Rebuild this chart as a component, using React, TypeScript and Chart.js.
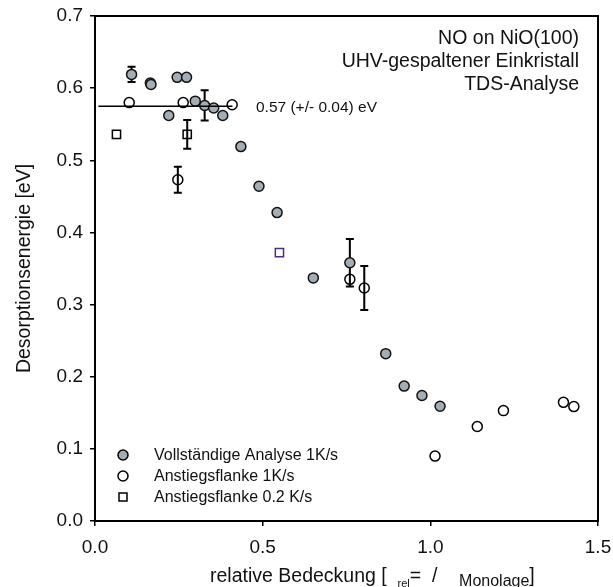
import React, { useEffect, useRef } from "react";
import { Chart, registerables } from "chart.js";

Chart.register(...registerables);

// ---- Data ----
const fullX = [0.109, 0.165, 0.167, 0.220, 0.245, 0.273, 0.299, 0.327, 0.354, 0.381, 0.435, 0.489, 0.543, 0.651, 0.760, 0.867, 0.922, 0.975, 1.029];
const fullY = [0.619, 0.607, 0.605, 0.562, 0.615, 0.615, 0.582, 0.576, 0.5725, 0.562, 0.519, 0.464, 0.4275, 0.337, 0.358, 0.232, 0.187, 0.174, 0.159];
const fullErr = [0.0105, 0, 0, 0, 0, 0, 0, 0.021, 0, 0, 0, 0, 0, 0, 0.033, 0, 0, 0, 0];

const openX = [0.102, 0.247, 0.263, 0.409, 0.760, 0.803, 1.014, 1.140, 1.218, 1.397, 1.428];
const openY = [0.580, 0.473, 0.580, 0.577, 0.335, 0.323, 0.090, 0.131, 0.153, 0.1645, 0.1586];
const openErr = [0, 0.018, 0, 0, 0, 0.0305, 0, 0, 0, 0, 0];

const slowX = [0.064, 0.275, 0.550];
const slowY = [0.536, 0.536, 0.372];
const slowErr = [0, 0.02, 0];
const slowBorder = ["#000000", "#000000", "#4b2a8a"];

const fitX = [0.01, 0.41];
const fitY = [0.575, 0.575];
const fitLabel = "0.57 (+/- 0.04) eV";

const legendLabels = ["Vollständige Analyse 1K/s", "Anstiegsflanke 1K/s", "Anstiegsflanke 0.2 K/s"];
const infoLines = ["NO on NiO(100)", "UHV-gespaltener Einkristall", "TDS-Analyse"];
const yTitle = "Desorptionsenergie [eV]";
const xTicks = [0, 0.5, 1.0, 1.5];
const yTicks = [0, 0.1, 0.2, 0.3, 0.4, 0.5, 0.6, 0.7];

const FONT = "'Liberation Sans', Arial, sans-serif";
const GRAY = "#a3adb5";

const toPts = (xs: number[], ys: number[]) => xs.map((x, i) => ({ x, y: ys[i] }));

const decor = {
  id: "decor",
  beforeDatasetsDraw(chart: any) {
    const ctx = chart.ctx;
    const xs = chart.scales.x;
    const ys = chart.scales.y;
    const sets: [number[], number[], number[]][] = [
      [fullX, fullY, fullErr],
      [openX, openY, openErr],
      [slowX, slowY, slowErr],
    ];
    ctx.save();
    ctx.strokeStyle = "#000";
    ctx.lineWidth = 2;
    sets.forEach(([X, Y, E]) => {
      X.forEach((x, i) => {
        if (!E[i]) return;
        const px = xs.getPixelForValue(x);
        const t = ys.getPixelForValue(Y[i] + E[i]);
        const b = ys.getPixelForValue(Y[i] - E[i]);
        ctx.beginPath();
        ctx.moveTo(px, t);
        ctx.lineTo(px, b);
        ctx.moveTo(px - 4, t);
        ctx.lineTo(px + 4, t);
        ctx.moveTo(px - 4, b);
        ctx.lineTo(px + 4, b);
        ctx.stroke();
      });
    });
    ctx.restore();
  },
  afterDraw(chart: any) {
    const ctx = chart.ctx;
    const a = chart.chartArea;
    const xs = chart.scales.x;
    const ys = chart.scales.y;
    ctx.save();
    // frame
    ctx.strokeStyle = "#000";
    ctx.lineWidth = 2;
    ctx.strokeRect(a.left, a.top, a.right - a.left, a.bottom - a.top);

    // fit label
    ctx.fillStyle = "#111";
    ctx.font = `15.5px ${FONT}`;
    ctx.textAlign = "left";
    ctx.textBaseline = "middle";
    ctx.fillText(fitLabel, xs.getPixelForValue(0.48), ys.getPixelForValue(0.573));

    // info text
    ctx.font = `19.5px ${FONT}`;
    ctx.textAlign = "right";
    infoLines.forEach((t, i) => {
      ctx.fillText(t, a.right - 19, a.top + 23 + i * 23);
    });

    // legend
    ctx.font = `16px ${FONT}`;
    ctx.textAlign = "left";
    const lx = a.left + 28;
    const rows = [a.bottom - 66, a.bottom - 45, a.bottom - 24];
    ctx.lineWidth = 1.5;
    ctx.strokeStyle = "#000";
    ctx.beginPath();
    ctx.arc(lx, rows[0], 5, 0, Math.PI * 2);
    ctx.fillStyle = GRAY;
    ctx.fill();
    ctx.stroke();
    ctx.beginPath();
    ctx.arc(lx, rows[1], 5, 0, Math.PI * 2);
    ctx.stroke();
    ctx.strokeRect(lx - 4, rows[2] - 4, 8, 8);
    ctx.fillStyle = "#111";
    legendLabels.forEach((t, i) => ctx.fillText(t, a.left + 59, rows[i] + 1));

    // y title
    ctx.save();
    ctx.translate(25, (a.top + a.bottom) / 2);
    ctx.rotate(-Math.PI / 2);
    ctx.textAlign = "center";
    ctx.textBaseline = "middle";
    ctx.font = `19.5px ${FONT}`;
    ctx.fillText(yTitle, 0, 0);
    ctx.restore();

    // x title with subscripts
    const parts: [string, number, number][] = [
      ["relative Bedeckung [  ", 19.5, 0],
      ["rel", 11, 5],
      ["=  /    ", 19.5, 0],
      ["Monolage", 16, 4],
      ["]", 19.5, 0],
    ];
    let x = 210;
    const by = 582;
    ctx.textAlign = "left";
    ctx.textBaseline = "alphabetic";
    parts.forEach(([t, s, off]) => {
      ctx.font = `${s}px ${FONT}`;
      ctx.fillText(t, x, by + off);
      x += ctx.measureText(t).width;
    });
    ctx.restore();
  },
};

export default function App() {
  const ref = useRef<HTMLCanvasElement | null>(null);
  useEffect(() => {
    if (!ref.current) return;
    Chart.defaults.font.family = FONT;
    const chart = new Chart(ref.current, {
      type: "scatter",
      data: {
        datasets: [
          {
            type: "line",
            data: toPts(fitX, fitY),
            borderColor: "#000",
            borderWidth: 1.5,
            pointRadius: 0,
            showLine: true,
          } as any,
          {
            data: toPts(fullX, fullY),
            pointRadius: 5,
            pointBorderWidth: 1.5,
            pointBackgroundColor: GRAY,
            pointBorderColor: "#111",
          },
          {
            data: toPts(openX, openY),
            pointRadius: 5,
            pointBorderWidth: 1.5,
            pointBackgroundColor: "rgba(0,0,0,0)",
            pointBorderColor: "#000",
          },
          {
            data: toPts(slowX, slowY),
            pointStyle: "rect",
            pointRadius: 5.8,
            pointBorderWidth: 1.5,
            pointBackgroundColor: "rgba(0,0,0,0)",
            pointBorderColor: slowBorder,
          },
        ],
      },
      options: {
        animation: false,
        responsive: false,
        layout: { padding: { top: 16, right: 15, left: 0, bottom: 0 } },
        plugins: { legend: { display: false }, tooltip: { enabled: false } },
        scales: {
          x: {
            type: "linear",
            min: 0,
            max: 1.5,
            afterFit: (s: any) => { s.height = 66; s.paddingLeft = 0; s.paddingRight = 0; },
            afterBuildTicks: (s: any) => { s.ticks = xTicks.map((v) => ({ value: v })); },
            ticks: {
              color: "#111",
              font: { size: 19 },
              padding: 10,
              maxRotation: 0,
              callback: (v: any) => Number(v).toFixed(1),
            },
            grid: { drawOnChartArea: false, drawTicks: true, tickLength: 5, color: "#000", lineWidth: 1.5 },
            border: { display: false },
          },
          y: {
            type: "linear",
            min: 0,
            max: 0.7,
            afterFit: (s: any) => { s.width = 95; s.paddingTop = 0; s.paddingBottom = 0; },
            afterBuildTicks: (s: any) => { s.ticks = yTicks.map((v) => ({ value: v })); },
            ticks: {
              color: "#111",
              font: { size: 19 },
              padding: 7,
              callback: (v: any) => Number(v).toFixed(1),
            },
            grid: { drawOnChartArea: false, drawTicks: true, tickLength: 5, color: "#000", lineWidth: 1.5 },
            border: { display: false },
          },
        },
      },
      plugins: [decor],
    });
    return () => chart.destroy();
  }, []);
  return (
    <div style={{ position: "absolute", left: 0, top: 0, width: 613, height: 587 }}>
      <canvas ref={ref} width={613} height={587} style={{ width: 613, height: 587 }} />
    </div>
  );
}
